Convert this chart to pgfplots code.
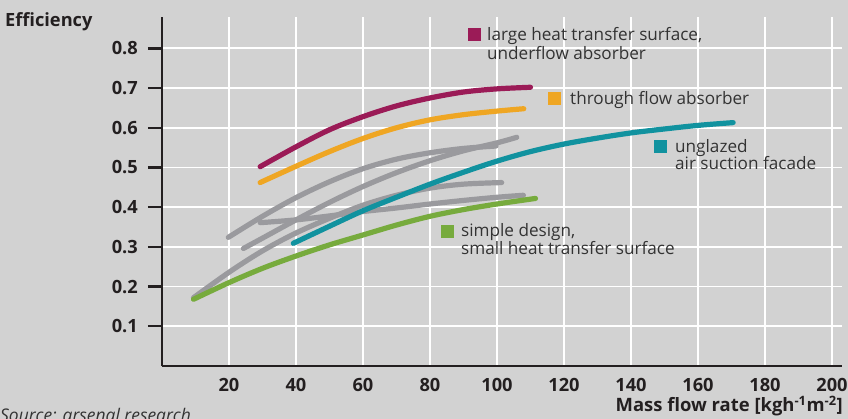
\documentclass[border=0pt]{standalone}
\usepackage{pgfplots}
\pgfplotsset{compat=1.18}
\usepackage{fontspec}
\setmainfont{Open Sans}
\definecolor{bg}{HTML}{D2D2D2}
\definecolor{axisc}{HTML}{231F20}
\definecolor{txt}{HTML}{333333}
\definecolor{cmag}{HTML}{9B1B57}
\definecolor{corange}{HTML}{EFA623}
\definecolor{cteal}{HTML}{11929F}
\definecolor{cgreen}{HTML}{77AB3D}
\definecolor{cgray}{HTML}{9A9A9E}
\begin{document}
\begin{tikzpicture}
\fill[bg] (-162bp,-53bp) rectangle (686bp,366bp);
\begin{axis}[
  at={(0,0)}, anchor=south west,
  scale only axis, width=680bp, height=349.4bp,
  xmin=0, xmax=203, ymin=0, ymax=0.88,
  axis x line*=bottom, axis y line*=left,
  axis line style={-, line width=2.6bp, color=axisc},
  every outer x axis line/.append style={-},
  every outer y axis line/.append style={-},
  xtick={20,40,60,80,100,120,140,160,180,200},
  xticklabels={20,40,60,80,100,120,140,160,180,200},
  ytick={0.1,0.2,0.3,0.4,0.5,0.6,0.7,0.8},
  yticklabels={0.1,0.2,0.3,0.4,0.5,0.6,0.7,0.8},
  xtick pos=bottom, ytick pos=left,
  tick align=outside,
  major tick length=14bp,
  xtick style={draw=none},
  ytick style={line width=2.4bp, color=axisc},
  grid=major,
  major grid style={white, line width=1.8bp},
  ticklabel style={font=\bfseries\fontsize{18.3}{21}\selectfont, text=axisc},
  yticklabel style={anchor=east, inner sep=0pt, xshift=-10bp},
  xticklabel style={anchor=north, inner sep=0pt, yshift=2bp},
  every axis plot/.append style={line width=5.2bp, line cap=round, smooth, tension=0.55, mark=none},
  clip=false,
]
% gray curves
\addplot[cgray] coordinates {(19.8,0.324)(30,0.377)(40,0.424)(50,0.464)(60,0.497)(70,0.521)(80,0.537)(90,0.548)(99.7,0.554)};
\addplot[cgray] coordinates {(24.3,0.296)(30,0.322)(40,0.368)(50,0.412)(60,0.452)(70,0.487)(80,0.517)(90,0.542)(100,0.562)(105.9,0.576)};
\addplot[cgray] coordinates {(9.4,0.172)(20,0.236)(30,0.29)(40,0.335)(50,0.372)(60,0.405)(70,0.43)(80,0.448)(90,0.458)(101.4,0.462)};
\addplot[cgray] coordinates {(29.3,0.361)(40,0.368)(50,0.378)(60,0.389)(70,0.398)(80,0.408)(90,0.417)(100,0.425)(107.9,0.43)};
% green
\addplot[cgreen] coordinates {(9.4,0.168)(20,0.21)(30,0.246)(40,0.277)(50,0.305)(60,0.33)(70,0.355)(80,0.377)(90,0.394)(100,0.408)(111.5,0.422)};
% teal
\addplot[cteal] coordinates {(39.2,0.309)(50,0.352)(60,0.391)(70,0.425)(80,0.458)(90,0.488)(100,0.516)(110,0.54)(120,0.559)(130,0.574)(140,0.587)(150,0.597)(160,0.606)(170.5,0.613)};
% orange
\addplot[corange] coordinates {(29.3,0.462)(40,0.503)(50,0.54)(60,0.573)(70,0.6)(80,0.62)(90,0.633)(100,0.642)(108,0.648)};
% magenta
\addplot[cmag] coordinates {(29.3,0.502)(40,0.552)(50,0.595)(60,0.628)(70,0.655)(80,0.675)(90,0.69)(100,0.698)(110,0.702)};
\end{axis}
\begin{scope}[every node/.style={inner sep=0pt, anchor=base west, text=txt, font=\fontsize{17.2}{19}\selectfont}]
\node at (306bp,325bp) {\textcolor{cmag}{\rule{12.5bp}{12.5bp}}};
\node at (325bp,325.3bp) {large heat transfer surface,};
\node at (325bp,306.7bp) {underflow absorber};
\node at (386bp,261bp) {\textcolor{corange}{\rule{12.5bp}{12.5bp}}};
\node at (408bp,261.3bp) {through flow absorber};
\node at (492bp,213bp) {\textcolor{cteal}{\rule{12.5bp}{12.5bp}}};
\node at (513bp,213bp) {unglazed};
\node at (513bp,196bp) {air suction facade};
\node at (279bp,128bp) {\textcolor{cgreen}{\rule{12.5bp}{12.5bp}}};
\node at (299bp,129bp) {simple design,};
\node at (299bp,111bp) {small heat transfer surface};
\node[font=\bfseries\fontsize{18.3}{20}\selectfont, text=axisc] at (-157bp,339bp) {Efficiency};
\node[anchor=base east, font=\bfseries\fontsize{18.5}{20}\selectfont, text=axisc] at (681bp,-45.7bp) {Mass flow rate [kgh\textsuperscript{-1}m\textsuperscript{-2}]};
\node[font=\itshape\fontsize{17.5}{19}\selectfont, text=txt] at (-162bp,-55bp) {Source: arsenal research};
\end{scope}
\pgfresetboundingbox
\path (-162bp,-53bp) rectangle (686bp,366bp);
\end{tikzpicture}
\end{document}
